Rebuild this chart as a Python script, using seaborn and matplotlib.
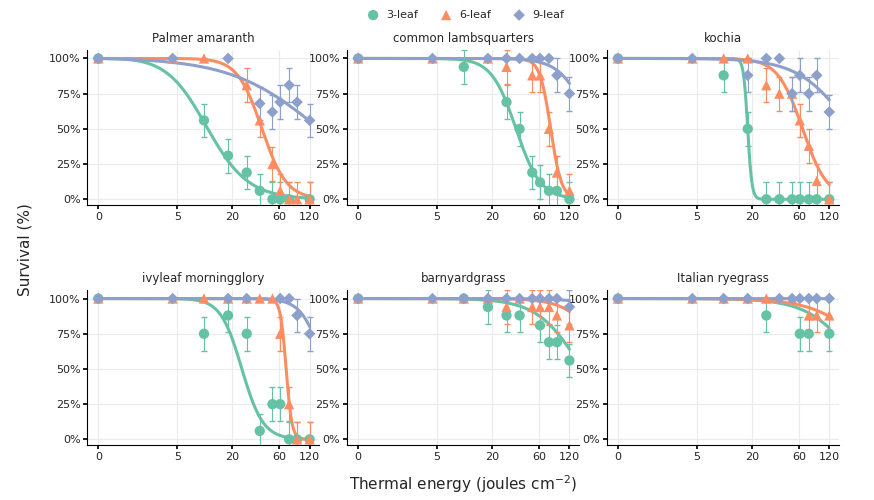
import numpy as np
import pandas as pd
import matplotlib
matplotlib.use("Agg")
import matplotlib.pyplot as plt
import seaborn as sns

species = ["Palmer amaranth", "common lambsquarters", "kochia",
           "ivyleaf morningglory", "barnyardgrass", "Italian ryegrass"]
stages = ["3-leaf", "6-leaf", "9-leaf"]
colors = ["#66c2a5", "#fc8d62", "#8da0cb"]
markers = ["o", "^", "D"]
tick_vals = [0, 5, 20, 60, 120]

doses = [0, 4.4, 10, 18, 28, 38, 51, 61, 75, 90, 120]
# survival (%) per species per stage, aligned with doses (None = not shown)
palmer_3 = [100, None, 56, 31, 19, 6, 0, 0, 0, None, 0]
palmer_6 = [100, 100, 100, None, 81, 56, 25, 6, 0, 0, 0]
palmer_9 = [100, 100, None, 100, None, 68, 62, 69, 81, 69, 56]
lambs_3 = [100, None, 94, None, 69, 50, 19, 12, 6, 6, 0]
lambs_6 = [100, 100, None, 100, 94, None, 88, 88, 50, 19, 6]
lambs_9 = [100, 100, None, 100, 100, 100, 100, 100, 100, 88, 75]
kochia_3 = [100, None, 88, 50, 0, 0, 0, 0, 0, 0, 0]
kochia_6 = [100, 100, 100, 100, 81, 75, 75, 56, 38, 13, 0]
kochia_9 = [100, 100, None, 88, 100, 100, 75, 88, 75, 88, 62]
ivy_3 = [100, None, 75, 88, 75, 6, 25, 25, 0, 0, 0]
ivy_6 = [100, 100, 100, 100, 100, 100, 100, 75, 25, 0, 0]
ivy_9 = [100, 100, None, 100, 100, None, None, 100, 100, 88, 75]
barn_3 = [100, None, 100, 94, 88, 88, None, 81, 69, 69, 56]
barn_6 = [100, 100, 100, 100, 94, 100, 94, 94, 94, 88, 81]
barn_9 = [100, 100, 100, 100, 100, 100, 100, 100, 100, 100, 94]
rye_3 = [100, None, None, None, 88, None, None, 75, 75, None, 75]
rye_6 = [100, 100, 100, 100, 100, 100, 100, None, 88, 88, 88]
rye_9 = [100, 100, 100, 100, None, 100, 100, 100, 100, 100, 100]
errors = 12
# fitted log-logistic parameters (ED50, slope) per species x stage
ed50 = [[11, 40, 150], [35, 78, 200], [18, 65, 200],
        [25, 70, 170], [160, 300, 1000], [250, 400, 5000]]
slope = [[2, 3.5, 1], [3.5, 8, 3], [20, 3.5, 1.7],
         [4, 15, 4], [2, 2.5, 2], [1.8, 1.6, 2]]

series = [[palmer_3, palmer_6, palmer_9], [lambs_3, lambs_6, lambs_9],
          [kochia_3, kochia_6, kochia_9], [ivy_3, ivy_6, ivy_9],
          [barn_3, barn_6, barn_9], [rye_3, rye_6, rye_9]]

fwd = lambda x: np.log1p(np.clip(x, -0.999, None))
inv = lambda y: np.expm1(y)

sns.set_theme(style="whitegrid")
plt.rcParams['font.family'] = ['DejaVu Sans']
fig, axes = plt.subplots(2, 3, figsize=(8.74, 5), dpi=100)
fig.subplots_adjust(left=0.1, right=0.96, top=0.9, bottom=0.11, wspace=0.12, hspace=0.55)
xs = np.linspace(0, 120, 600)
for i, ax in enumerate(axes.flat):
    ax.set_xscale("function", functions=(fwd, inv))
    for j in range(3):
        e, b = ed50[i][j], slope[i][j]
        yc = 100 / (1 + (xs / e) ** b)
        sns.lineplot(x=xs, y=yc, ax=ax, color=colors[j], lw=2.2, zorder=2)
    for j in range(3):
        vals = series[i][j]
        d = pd.DataFrame({"x": doses, "y": vals}).dropna()
        err = np.where(d["y"] >= 100, 0, errors)
        ax.errorbar(d["x"], d["y"], yerr=err, fmt="none", ecolor=colors[j],
                    elinewidth=0.8, capsize=2, zorder=3)
        sns.scatterplot(data=d, x="x", y="y", ax=ax, color=colors[j],
                        marker=markers[j], s=55 if j < 2 else 35, edgecolor="none",
                        zorder=4, label=stages[j] if i == 0 else None)
    ax.set_xlim(-0.22, 150)
    ax.set_ylim(-4, 106)
    ax.set_xticks(tick_vals)
    ax.set_xticklabels([str(t) for t in tick_vals])
    ax.minorticks_off()
    ax.set_yticks([0, 25, 50, 75, 100])
    ax.set_yticklabels(["0%", "25%", "50%", "75%", "100%"])
    ax.tick_params(labelsize=8, length=3, color="black", left=True, bottom=True, pad=2)
    ax.grid(True, color="#ebebeb", lw=0.8)
    for s in ["top", "right"]:
        ax.spines[s].set_visible(False)
    for s in ["left", "bottom"]:
        ax.spines[s].set_color("black")
        ax.spines[s].set_linewidth(0.8)
    ax.set_title(species[i], fontsize=8.5)
    ax.set_xlabel("")
    ax.set_ylabel("")
    if ax.get_legend():
        ax.get_legend().remove()

h, l = axes[0, 0].get_legend_handles_labels()
fig.legend(h, l, loc="upper center", ncol=3, frameon=False, fontsize=8,
           bbox_to_anchor=(0.53, 1.0), handletextpad=0.2, columnspacing=1.5)
fig.text(0.53, 0.02, "Thermal energy (joules cm$^{-2}$)", ha="center", fontsize=11)
fig.text(0.02, 0.5, "Survival (%)", va="center", rotation=90, fontsize=11)
fig.savefig("out.png", dpi=100)
